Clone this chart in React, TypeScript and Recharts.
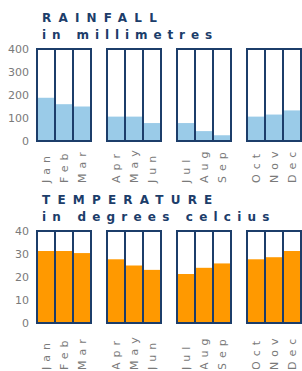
import { Bar, BarChart, XAxis, YAxis } from 'recharts';

const months = ['Jan', 'Feb', 'Mar', 'Apr', 'May', 'Jun', 'Jul', 'Aug', 'Sep', 'Oct', 'Nov', 'Dec'];
const quarters = [[0, 1, 2], [3, 4, 5], [6, 7, 8], [9, 10, 11]];
const rainfall = [188, 160, 150, 106, 106, 78, 78, 43, 25, 106, 115, 133];
const temperature = [31.3, 31.3, 30.4, 27.7, 25, 23.1, 21.3, 24, 25.9, 27.7, 28.6, 31.3];
const rainTicks = [0, 100, 200, 300, 400];
const tempTicks = [0, 10, 20, 30, 40];

const NAVY = '#1c3d6a';
const GREY = '#7a7a7a';
const FONT = '"DejaVu Sans", Verdana, sans-serif';

// fill first, then the full-height outline on top so dividers run through the fill
function CellShape(props: any) {
  const { x, y, width, height, fill, background } = props;
  const bg = background ?? { x, y, width, height };
  return (
    <g>
      <rect x={x} y={y} width={width} height={height} fill={fill} />
      <rect x={bg.x} y={bg.y} width={bg.width} height={bg.height} fill="none" stroke={NAVY} strokeWidth={2} />
    </g>
  );
}

function MonthTick(props: any) {
  const { x, y, payload, shift } = props;
  const ty = y + shift;
  return (
    <text
      x={x}
      y={ty}
      dy="0.36em"
      transform={`rotate(-90 ${x} ${ty})`}
      textAnchor="start"
      fill={GREY}
      fontSize={11}
      fontFamily={FONT}
      letterSpacing={5}
    >
      {payload.value}
    </text>
  );
}

function Row({ values, ticks, fill, top, shift }: { values: number[]; ticks: number[]; fill: string; top: number; shift: number }) {
  const max = ticks[ticks.length - 1];
  return (
    <>
      {quarters.map((q, i) => {
        const data = q.map((m) => ({ month: months[m], value: values[m] }));
        const first = i === 0;
        return (
          <div key={i} style={{ position: 'absolute', left: first ? 0 : 35 + 70 * i, top: top - 8 }}>
            <BarChart
              width={first ? 93 : 58}
              height={146}
              data={data}
              margin={{ top: 8, right: 2, bottom: 2, left: first ? 0 : 2 }}
              barCategoryGap={0}
              barGap={0}
            >
              <XAxis
                dataKey="month"
                height={44}
                axisLine={false}
                tickLine={false}
                tickSize={0}
                tickMargin={0}
                interval={0}
                tick={(p: any) => <MonthTick {...p} shift={shift} />}
              />
              <YAxis
                hide={!first}
                width={37}
                domain={[0, max]}
                ticks={ticks}
                interval={0}
                axisLine={false}
                tickLine={false}
                tick={{ fill: GREY, fontSize: 11, fontFamily: FONT }}
              />
              <Bar dataKey="value" fill={fill} isAnimationActive={false} shape={CellShape} />
            </BarChart>
          </div>
        );
      })}
    </>
  );
}

export default function App() {
  const title = { fill: NAVY, fontFamily: FONT, fontWeight: 700, fontSize: 12 } as const;
  return (
    <div style={{ position: 'absolute', left: 0, top: 0, width: 302, height: 371, overflow: 'hidden', background: '#fff' }}>
      <svg width={302} height={371} style={{ position: 'absolute', left: 0, top: 0 }}>
        <text x={42} y={22} {...title} letterSpacing={7.2}>RAINFALL</text>
        <text x={42} y={38.5} {...title} letterSpacing={5.9}>in millimetres</text>
        <text x={42} y={204} {...title} letterSpacing={7.2}>TEMPERATURE</text>
        <text x={42} y={220.5} {...title} letterSpacing={6.2}>in degrees celcius</text>
      </svg>
      <Row values={rainfall} ticks={rainTicks} fill="#9acbe8" top={49} shift={42} />
      <Row values={temperature} ticks={tempTicks} fill="#ff9900" top={231} shift={47} />
    </div>
  );
}
